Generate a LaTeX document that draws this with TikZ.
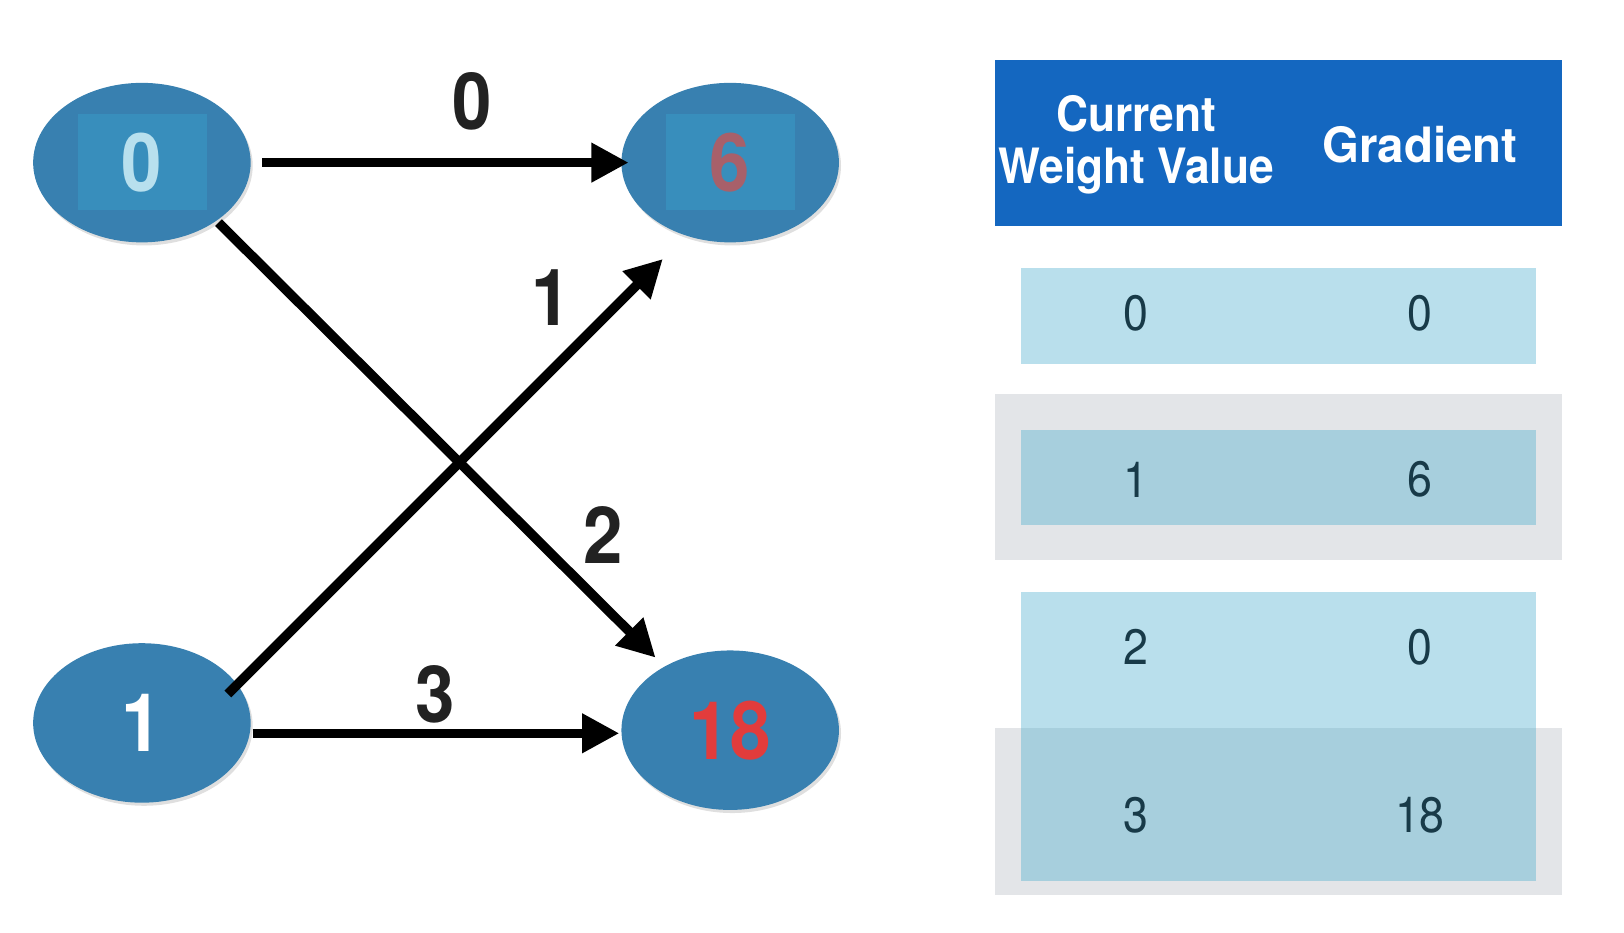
\documentclass[tikz,border=0pt]{standalone}
\usepackage{fontspec}
\setmainfont{TeX Gyre Heros}
\usetikzlibrary{arrows.meta,shapes.geometric,calc,shadows}
\definecolor{nodeblue}{RGB}{56,128,176}
\definecolor{innerblue}{RGB}{56,142,188}
\definecolor{zerotxt}{RGB}{184,224,238}
\definecolor{sixtxt}{RGB}{168,96,106}
\definecolor{redtxt}{RGB}{226,60,60}
\definecolor{headblue}{RGB}{20,103,192}
\definecolor{lightrow}{RGB}{185,223,236}
\definecolor{darkrow}{RGB}{167,207,221}
\definecolor{grayband}{RGB}{227,229,232}
\definecolor{celltxt}{RGB}{24,58,72}
\definecolor{labtxt}{RGB}{34,34,34}
\newcommand\cond[1]{\scalebox{0.9}[1]{#1}}
\newcommand\hcond[1]{\scalebox{0.91}[1]{#1}}
\newcommand\gcond[1]{\scalebox{0.975}[1]{#1}}
\tikzset{
  nodeell/.style={ellipse, fill=nodeblue, minimum width=105pt, minimum height=77pt, inner sep=0pt,
    drop shadow={shadow xshift=1pt, shadow yshift=-1.5pt, opacity=0.25},
    font=\fontsize{39}{39}\selectfont\bfseries},
  conn/.style={line width=4.6pt, -{Triangle[length=18pt,width=18pt]}},
  elab/.style={text=labtxt, font=\fontsize{38}{38}\selectfont\bfseries, inner sep=0pt},
  cell/.style={text=celltxt, font=\fontsize{24}{24}\selectfont, inner sep=0pt},
  head/.style={text=white, font=\fontsize{23.5}{25}\selectfont\bfseries, align=center, inner sep=0pt}
}
\begin{document}
\begin{tikzpicture}[x=0.5pt,y=-0.5pt]
\useasboundingbox (0,0) rectangle (1568,900);
% graph nodes
\node[nodeell] (n0) at (137,157) {};
\node[nodeell] (n6) at (705,157) {};
\node[nodeell, text=white] (n1) at (137,698) {\cond{1}};
\node[nodeell, text=redtxt] (n18) at (705,705) {\cond{18}};
\fill[innerblue] (75,110) rectangle (200,203);
\fill[innerblue] (643,110) rectangle (768,203);
\node[font=\fontsize{39}{39}\selectfont\bfseries, text=zerotxt] (t0) at (n0) {\cond{0}};
\node[font=\fontsize{39}{39}\selectfont\bfseries, text=sixtxt] (t6) at (n6) {\cond{6}};
% connectors
\draw[conn] ($(n0)+(116,0)$) -- node[elab, pos=0.573, yshift=29.5pt] (l0) {\cond{0}} ($(n6)+(-98,0)$);
\draw[conn] ($(n0)+(74,58)$) -- node[elab, pos=0.80, xshift=16.7pt, yshift=17pt] (l2) {\cond{2}} ($(n18)+(-72,-70)$);
\draw[conn] ($(n1)+(83,-28)$) -- node[elab, pos=0.827, xshift=-17.7pt, yshift=17.7pt] (l1) {\cond{1}} ($(n6)+(-65,93)$);
\draw[conn] ($(n1)+(107,10)$) -- node[elab, pos=0.497, yshift=19pt] (l3) {\cond{3}} ($(n18)+(-107,3)$);
% table
\fill[headblue] (961,58) rectangle (1508,218);
\node[head] (h1) at (1097,140) {\hcond{Current}\\\hcond{Weight Value}};
\node[head] (h2) at (1371,140) {\gcond{Gradient}};
\fill[lightrow] (986,259) rectangle (1483,351);
\node[cell] (r0a) at (1097,302) {\cond{0}};
\node[cell] (r0b) at (1371,302) {\cond{0}};
\fill[grayband] (961,380) rectangle (1508,541);
\fill[darkrow] (986,415) rectangle (1483,507);
\node[cell] (r1a) at (1097,463) {\cond{1}};
\node[cell] (r1b) at (1371,463) {\cond{6}};
\fill[lightrow] (986,572) rectangle (1483,703);
\node[cell] (r2a) at (1097,625) {\cond{2}};
\node[cell] (r2b) at (1371,625) {\cond{0}};
\fill[grayband] (961,703) rectangle (1508,864);
\fill[darkrow] (986,703) rectangle (1483,851);
\node[cell] (r3a) at (1097,787) {\cond{3}};
\node[cell] (r3b) at (1371,787) {\cond{18}};
\end{tikzpicture}
\end{document}
